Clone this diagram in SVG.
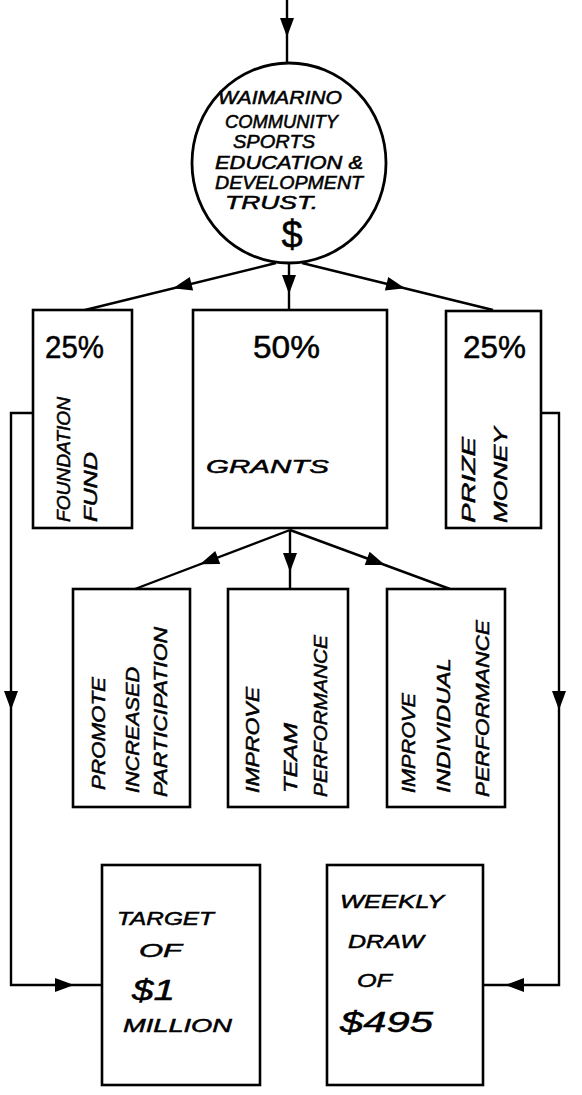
<svg xmlns="http://www.w3.org/2000/svg" width="582" height="1095" viewBox="0 0 582 1095">
<defs>
<path id="ah" d="M-19,-7 L0,0 L-19,7 z" fill="#000"/>
</defs>
<style>
.box{fill:#fff;stroke:#000;stroke-width:2.6}
.ln{fill:none;stroke:#000;stroke-width:2.4}
text{font-family:"Liberation Sans",Arial,sans-serif;font-style:italic;fill:#000;stroke:#000;stroke-width:0.5}
.t{font-size:17.5px}
.r{font-size:19px}
.h{font-size:19px}
.big{font-size:32px;font-style:normal}
</style>
<rect width="582" height="1095" fill="#fff"/>
<g id="connectors">
<path class="ln" d="M287,0 L287,63"/>
<path class="ln" d="M276,263 L85,310"/>
<path class="ln" d="M289,263 L289,310"/>
<path class="ln" d="M302,263 L493,310"/>
<path class="ln" d="M290,530 L135,589"/>
<path class="ln" d="M290,530 L290,589"/>
<path class="ln" d="M290,530 L450,589"/>
<path class="ln" d="M33,413 L11,413 L11,985 L102,985"/>
<path class="ln" d="M541,413 L559,413 L559,985 L483,985"/>
<use href="#ah" transform="translate(287,37) rotate(90)"/>
<use href="#ah" transform="translate(173,288.3) rotate(166.2)"/>
<use href="#ah" transform="translate(289,294) rotate(90)"/>
<use href="#ah" transform="translate(405,288.3) rotate(13.8)"/>
<use href="#ah" transform="translate(200,564.3) rotate(159.2)"/>
<use href="#ah" transform="translate(290,572) rotate(90)"/>
<use href="#ah" transform="translate(385,565) rotate(20.2)"/>
<use href="#ah" transform="translate(11,710) rotate(90)"/>
<use href="#ah" transform="translate(559,710) rotate(90)"/>
<use href="#ah" transform="translate(74,985)"/>
<use href="#ah" transform="translate(505,985) rotate(180)"/>
</g>
<g id="trust">
<ellipse cx="289" cy="163" rx="97" ry="100" fill="#fff" stroke="#000" stroke-width="2.8"/>
<text class="t" x="218" y="104" textLength="124" lengthAdjust="spacingAndGlyphs">WAIMARINO</text>
<text class="t" x="225" y="128" textLength="113" lengthAdjust="spacingAndGlyphs">COMMUNITY</text>
<text class="t" x="233" y="148" textLength="82" lengthAdjust="spacingAndGlyphs">SPORTS</text>
<text class="t" x="215" y="169" textLength="148" lengthAdjust="spacingAndGlyphs">EDUCATION &amp;</text>
<text class="t" x="215" y="189" textLength="148" lengthAdjust="spacingAndGlyphs">DEVELOPMENT</text>
<text class="t" x="225" y="209" textLength="93" lengthAdjust="spacingAndGlyphs">TRUST.</text>
<text x="292" y="248" font-size="38" text-anchor="middle" style="font-style:normal">$</text>
</g>
<g id="foundation">
<rect class="box" x="33" y="310" width="99" height="218"/>
<text class="big" x="45" y="358" textLength="59" lengthAdjust="spacingAndGlyphs">25%</text>
<text class="r" transform="translate(70,522) rotate(-90)" textLength="125" lengthAdjust="spacingAndGlyphs">FOUNDATION</text>
<text class="r" transform="translate(97,522) rotate(-90)" textLength="70" lengthAdjust="spacingAndGlyphs">FUND</text>
</g>
<g id="grants">
<rect class="box" x="193" y="310" width="194" height="218"/>
<text class="big" x="253" y="358" textLength="67" lengthAdjust="spacingAndGlyphs">50%</text>
<text class="h" x="206" y="473" textLength="123" lengthAdjust="spacingAndGlyphs">GRANTS</text>
</g>
<g id="prize">
<rect class="box" x="446" y="311" width="95" height="217"/>
<text class="big" x="463" y="358" textLength="63" lengthAdjust="spacingAndGlyphs">25%</text>
<text class="r" transform="translate(475,523) rotate(-90)" textLength="86" lengthAdjust="spacingAndGlyphs">PRIZE</text>
<text class="r" transform="translate(507,523) rotate(-90)" textLength="96" lengthAdjust="spacingAndGlyphs">MONEY</text>
</g>
<g id="participation">
<rect class="box" x="73" y="589" width="117" height="218"/>
<text class="r" transform="translate(105,790) rotate(-90)" textLength="113" lengthAdjust="spacingAndGlyphs">PROMOTE</text>
<text class="r" transform="translate(139,793) rotate(-90)" textLength="126" lengthAdjust="spacingAndGlyphs">INCREASED</text>
<text class="r" transform="translate(167,797) rotate(-90)" textLength="170" lengthAdjust="spacingAndGlyphs">PARTICIPATION</text>
</g>
<g id="team">
<rect class="box" x="228" y="589" width="120" height="218"/>
<text class="r" transform="translate(259,793) rotate(-90)" textLength="106" lengthAdjust="spacingAndGlyphs">IMPROVE</text>
<text class="r" transform="translate(297,793) rotate(-90)" textLength="70" lengthAdjust="spacingAndGlyphs">TEAM</text>
<text class="r" transform="translate(327,797) rotate(-90)" textLength="162" lengthAdjust="spacingAndGlyphs">PERFORMANCE</text>
</g>
<g id="individual">
<rect class="box" x="387" y="589" width="118" height="218"/>
<text class="r" transform="translate(415,793) rotate(-90)" textLength="100" lengthAdjust="spacingAndGlyphs">IMPROVE</text>
<text class="r" transform="translate(450,793) rotate(-90)" textLength="135" lengthAdjust="spacingAndGlyphs">INDIVIDUAL</text>
<text class="r" transform="translate(489,797) rotate(-90)" textLength="177" lengthAdjust="spacingAndGlyphs">PERFORMANCE</text>
</g>
<g id="target">
<rect class="box" x="102" y="865" width="158" height="220"/>
<text class="h" x="117" y="925" textLength="97" lengthAdjust="spacingAndGlyphs">TARGET</text>
<text class="h" x="139" y="957" textLength="43" lengthAdjust="spacingAndGlyphs">OF</text>
<text x="132" y="1000" font-size="30" textLength="43" lengthAdjust="spacingAndGlyphs">$1</text>
<text class="h" x="123" y="1032" textLength="109" lengthAdjust="spacingAndGlyphs">MILLION</text>
</g>
<g id="weekly">
<rect class="box" x="327" y="865" width="156" height="220"/>
<text class="h" x="340" y="908" textLength="104" lengthAdjust="spacingAndGlyphs">WEEKLY</text>
<text class="h" x="348" y="948" textLength="76" lengthAdjust="spacingAndGlyphs">DRAW</text>
<text class="h" x="357" y="987" textLength="35" lengthAdjust="spacingAndGlyphs">OF</text>
<text x="340" y="1032" font-size="30" textLength="93" lengthAdjust="spacingAndGlyphs">$495</text>
</g>
</svg>
